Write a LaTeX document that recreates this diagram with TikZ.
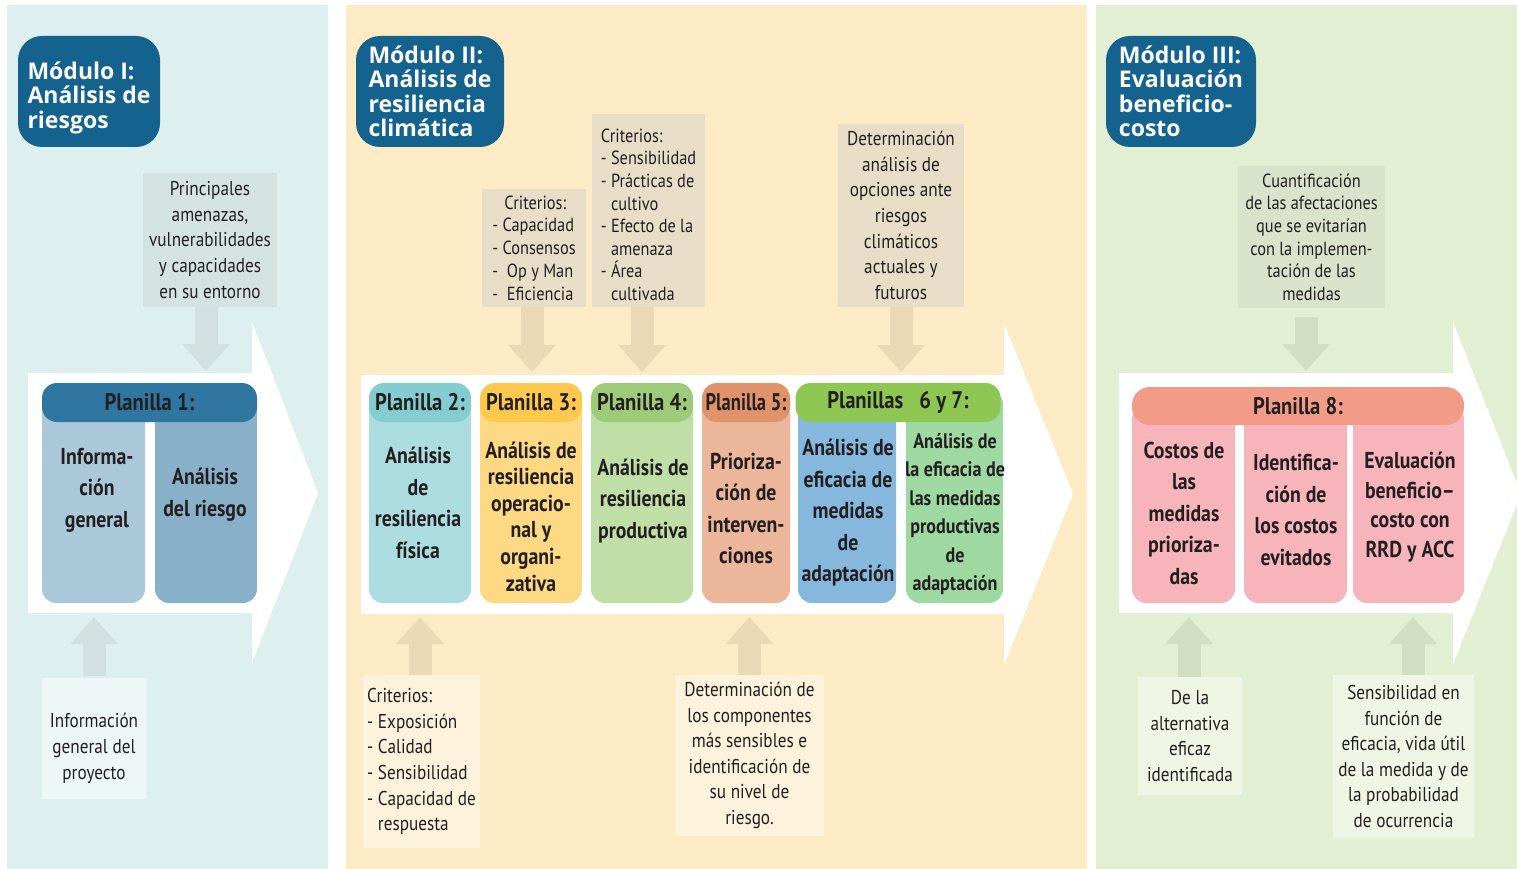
\documentclass[tikz,border=0pt]{standalone}
\usepackage{fontspec}
\setmainfont{PT Sans}[FakeStretch=0.86]
\newfontfamily\titlefont{Open Sans}
\usepackage{tikz}
\usetikzlibrary{calc}
\usetikzlibrary{arrows.meta}
\usetikzlibrary{positioning}
\usepackage{xcolor}

\definecolor{fondoA}{HTML}{DDF0EF}
\definecolor{fondoB}{HTML}{FDEBC5}
\definecolor{fondoC}{HTML}{E2EFD2}
\definecolor{azulmod}{HTML}{14628E}
\definecolor{tinta}{HTML}{231F20}
\definecolor{notaA}{HTML}{D5E2E2}
\definecolor{notaAc}{HTML}{EEF7F7}
\definecolor{flechaA}{HTML}{D0E1E0}
\definecolor{notaB}{HTML}{E8DEC8}
\definecolor{notaBc}{HTML}{FDF2DC}
\definecolor{flechaB}{HTML}{E9D9B5}
\definecolor{notaC}{HTML}{D9E3CC}
\definecolor{notaCc}{HTML}{F0F6E6}
\definecolor{flechaC}{HTML}{D0DFC2}
\definecolor{cabI}{HTML}{2F76A1}
\definecolor{colIa}{HTML}{AAC8DA}
\definecolor{colIb}{HTML}{88B0C8}
\definecolor{cabII}{HTML}{83CCD0}
\definecolor{colII}{HTML}{ABDDE0}
\definecolor{cabIII}{HTML}{FCC84E}
\definecolor{colIII}{HTML}{FDD983}
\definecolor{cabIV}{HTML}{9DCB79}
\definecolor{colIV}{HTML}{C0DFA7}
\definecolor{cabV}{HTML}{E0926A}
\definecolor{colV}{HTML}{EBB699}
\definecolor{cabVI}{HTML}{8DC651}
\definecolor{colVI}{HTML}{86B7DC}
\definecolor{colVII}{HTML}{9DD9A1}
\definecolor{cabVIII}{HTML}{F29C87}
\definecolor{colVIII}{HTML}{F7B5BB}

\tikzset{
   modulo/.style={fill=azulmod, text=white, rounded corners=24pt, inner sep=0pt,
      align=left, font=\titlefont\bfseries\fontsize{23}{24.5}\selectfont},
   cabeza/.style={rounded corners=15pt, inner sep=0pt, text=tinta,
      font=\bfseries\fontsize{24}{26}\selectfont},
   hoja/.style={text=tinta, align=center, inner sep=0pt,
      font=\bfseries\fontsize{23}{31.5}\selectfont},
   nota/.style={text=tinta, align=center, inner sep=0pt,
      font=\fontsize{20}{25.6}\selectfont},
   flecha/.style={line width=23pt, -{Triangle[width=46pt,length=27pt]}},
}

\begin{document}
\begin{tikzpicture}[x=1pt,y=-1pt]
\useasboundingbox (0,0) rectangle (1517,869);

% fondos
\fill[fondoA] (7,5) rectangle (328,869);
\fill[fondoB] (346,5) rectangle (1087,869);
\fill[fondoC] (1096,5) rectangle (1517,869);

% flechas blancas de cada modulo
\fill[white] (28,373) -- (252,373) -- (252,322) -- (318,493) -- (252,663) -- (252,613) -- (28,613) -- cycle;
\fill[white] (361,375) -- (1004,375) -- (1004,323) -- (1073,494) -- (1004,665) -- (1004,614) -- (361,614) -- cycle;
\fill[white] (1119,373) -- (1453,373) -- (1453,322) -- (1521,494) -- (1453,664) -- (1453,613) -- (1119,613) -- cycle;
\coordinate (b1n) at (28,371);
\coordinate (b1s) at (28,617);
\coordinate (b2n) at (361,372);
\coordinate (b2s) at (361,617);
\coordinate (b3n) at (1119,371);
\coordinate (b3s) at (1119,617);

% titulos
\node[modulo, minimum width=142pt, minimum height=111pt] (modI) at (89,91.5) {\rule{0pt}{30pt}Módulo I:\\Análisis de\\riesgos};
\node[modulo, minimum width=148pt, minimum height=111pt] (modII) at (430,91.5) {Módulo II:\\Análisis de\\resiliencia\\climática};
\node[modulo, minimum width=150pt, minimum height=111pt] (modIII) at (1181,91.5) {Módulo III:\\Evaluación\\beneficio-\\costo};

% Modulo I
\fill[colIa, rounded corners=14pt] (42,395) rectangle (145,603);
\fill[colIb, rounded corners=14pt] (155,395) rectangle (257,603);
\node[cabeza, fill=cabI, minimum width=215pt, minimum height=39pt] (pl1) at (149.5,402.5) {Planilla 1:};
\node[hoja] (infogral) at (97,490) {Informa-\\ción\\general};
\node[hoja] (anriesgo) at (205,494.5) {Análisis\\del riesgo};

\node[nota, fill=notaA, minimum width=134pt, minimum height=134pt] (amenazas) at (210,240)
   {Principales\\amenazas,\\vulnerabilidades\\y capacidades\\en su entorno};
\node[nota, fill=notaAc, minimum width=104pt, minimum height=121pt] (proyecto) at (94,738.5)
   {\rule{0pt}{34pt}Información\\general del\\proyecto};
\draw[flecha, draw=flechaA] ([xshift=-4pt]amenazas.south) -- ([xshift=-4pt]amenazas.south |- b1n);
\draw[flecha, draw=flechaA] ([yshift=2pt]proyecto.north) -- (proyecto.north |- b1s);

% Modulo II
\fill[colII, rounded corners=14pt] (369,390) rectangle (471,603);
\fill[colIII, rounded corners=14pt] (480,390) rectangle (582,603);
\fill[colIV, rounded corners=14pt] (591,390) rectangle (693,603);
\fill[colV, rounded corners=14pt] (702,390) rectangle (790,603);
\fill[colVI, rounded corners=14pt] (798,390) rectangle (896,603);
\fill[colVII, rounded corners=14pt] (906,390) rectangle (1003,603);
\node[cabeza, fill=cabII, minimum width=102pt, minimum height=39pt] (pl2) at (420,402.5) {Planilla 2:};
\node[cabeza, fill=cabIII, minimum width=102pt, minimum height=39pt] (pl3) at (531,402.5) {Planilla 3:};
\node[cabeza, fill=cabIV, minimum width=102pt, minimum height=39pt] (pl4) at (642,402.5) {Planilla 4:};
\node[cabeza, fill=cabV, minimum width=88pt, minimum height=39pt] (pl5) at (746,402.5) {\scalebox{0.9}[1]{Planilla 5:}};
\node[cabeza, fill=cabVI, minimum width=205pt, minimum height=39pt] (pl67) at (898,402.5) {Planillas\hspace{16pt}6 y 7:};
\node[hoja] (fisica) at (418,503) {Análisis\\de\\resiliencia\\física};
\node[hoja, font=\bfseries\fontsize{23}{26.6}\selectfont] (operativa) at (531,516.5) {Análisis de\\resiliencia\\operacio-\\nal y\\organi-\\zativa};
\node[hoja] (productiva) at (643,501) {Análisis de\\resiliencia\\productiva};
\node[hoja] (priorizar) at (746,508.5) {Prioriza-\\ción de\\interven-\\ciones};
\node[hoja] (eficacia) at (848,513) {Análisis de\\eficacia de\\medidas\\de\\adaptación};
\node[hoja, font=\bfseries\fontsize{21}{28.4}\selectfont] (eficprod) at (955,514)
   {Análisis de\\la eficacia de\\las medidas\\productivas\\de\\adaptación};

\node[nota, fill=notaB, align=left, minimum width=104pt, minimum height=118pt,
   font=\fontsize{19}{22.7}\selectfont] (critop) at (534,248)
   {\hspace*{12pt}Criterios:\\- Capacidad\\- Consensos\\-\ \ Op y Man\\-\ \ Eficiencia};
\node[nota, fill=notaB, align=left, minimum width=113pt, minimum height=193pt,
   font=\fontsize{19}{22.6}\selectfont] (critprod) at (648.5,210.5)
   {\rule{0pt}{22pt}Criterios:\\- Sensibilidad\\- Prácticas de\\\phantom{- }cultivo\\- Efecto de la\\\phantom{- }amenaza\\- Área\\\phantom{- }cultivada};
\node[nota, fill=notaB, minimum width=126pt, minimum height=183pt] (opciones) at (901,215.5)
   {Determinación\\análisis de\\opciones ante\\riesgos\\climáticos\\actuales y\\futuros};
\node[nota, fill=notaBc, align=left, minimum width=117pt, minimum height=173pt] (critfis) at (421.5,761.5)
   {Criterios:\\- Exposición\\- Calidad\\- Sensibilidad\\- Capacidad de\\\phantom{- }respuesta};
\node[nota, fill=notaBc, minimum width=149pt, minimum height=161pt] (componentes) at (749.5,755.5)
   {Determinación de\\los componentes\\más sensibles e\\identificación de\\su nivel de\\riesgo.};
\draw[flecha, draw=flechaB] ([xshift=-2pt]critop.south) -- ([xshift=-2pt]critop.south |- b2n);
\draw[flecha, draw=flechaB] ([xshift=-6.5pt]critprod.south) -- ([xshift=-6.5pt]critprod.south |- b2n);
\draw[flecha, draw=flechaB] (opciones.south) -- (opciones.south |- b2n);
\draw[flecha, draw=flechaB] ([xshift=-1.5pt]critfis.north) -- ([xshift=-1.5pt]critfis.north |- b2s);
\draw[flecha, draw=flechaB] (componentes.north) -- (componentes.north |- b2s);

% Modulo III
\fill[colVIII, rounded corners=14pt] (1132,405) rectangle (1235,603);
\fill[colVIII, rounded corners=14pt] (1244,405) rectangle (1347,603);
\fill[colVIII, rounded corners=14pt] (1353,405) rectangle (1464,603);
\node[cabeza, fill=cabVIII, rounded corners=18pt, minimum width=332pt, minimum height=38pt] (pl8) at (1298,406) {Planilla 8:};
\node[hoja] (costos) at (1184,513) {Costos de\\las\\medidas\\prioriza-\\das};
\node[hoja] (evitados) at (1296,510) {Identifica-\\ción de\\los costos\\evitados};
\node[hoja, font=\bfseries\fontsize{23}{29.5}\selectfont] (benefcosto) at (1410,507) {Evaluación\\beneficio--\\costo con\\RRD y ACC};

\node[nota, fill=notaC, minimum width=147pt, minimum height=142pt,
   font=\fontsize{19}{22.6}\selectfont] (afectaciones) at (1311.5,237)
   {Cuantificación\\de las afectaciones\\que se evitarían\\con la implemen-\\tación de las\\medidas};
\node[nota, fill=notaCc, minimum width=104pt, minimum height=118pt] (alternativa) at (1190,736)
   {De la\\alternativa\\eficaz\\identificada};
\node[nota, fill=notaCc, minimum width=141pt, minimum height=163pt] (ocurrencia) at (1403.5,756.5)
   {Sensibilidad en\\función de\\eficacia, vida útil\\de la medida y de\\la probabilidad\\de ocurrencia};
\draw[flecha, draw=flechaC, shorten <=9pt] ([xshift=-5.5pt]afectaciones.south) -- ([xshift=-5.5pt]afectaciones.south |- b3n);
\draw[flecha, draw=flechaC] ([xshift=-1pt]alternativa.north) -- ([xshift=-1pt]alternativa.north |- b3s);
\draw[flecha, draw=flechaC] ([xshift=9.5pt]ocurrencia.north) -- ([xshift=9.5pt]ocurrencia.north |- b3s);

\end{tikzpicture}
\end{document}
